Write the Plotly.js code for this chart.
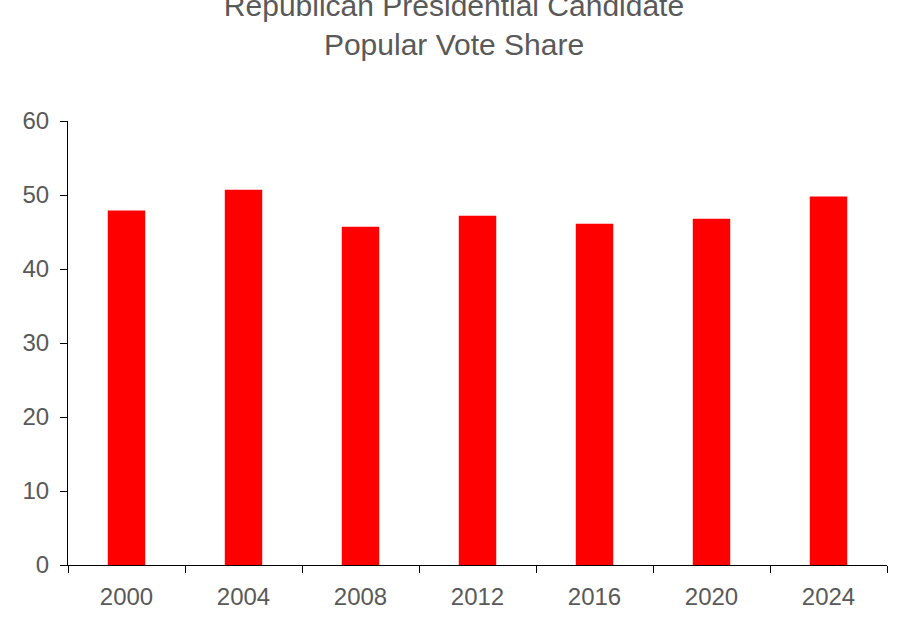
<!DOCTYPE html>
<html>
<head>
<script src="https://cdn.plot.ly/plotly-3.0.1.min.js"></script>
<style>body{margin:0}</style>
</head>
<body>
<div id="chart" style="width:908px;height:626px"></div>
<script>
// popular vote share, percent
const years = ["2000", "2004", "2008", "2012", "2016", "2020", "2024"];
const share = [47.9, 50.7, 45.7, 47.2, 46.1, 46.8, 49.8];

const grey = "#595959";

const data = [{
  x: years,
  y: share,
  type: "bar",
  marker: { color: "#ff0000" },
  hoverinfo: "x+y"
}];

const layout = {
  width: 908,
  height: 626,
  margin: { l: 68, r: 21, t: 121, b: 61 },
  paper_bgcolor: "#ffffff",
  plot_bgcolor: "#ffffff",
  font: { family: "Liberation Sans, Arial, sans-serif", color: grey, size: 24 },
  title: {
    text: "Republican Presidential Candidate<br>Popular Vote Share",
    font: { size: 30, color: grey },
    x: 0.5,
    y: 0.975,
    yanchor: "top",
    pad: { t: 0 }
  },
  bargap: 0.68,
  showlegend: false,
  xaxis: {
    type: "category",
    showline: true,
    linecolor: "#000",
    linewidth: 1,
    ticks: "outside",
    tickson: "boundaries",
    ticklen: 7,
    tickcolor: "#000",
    ticklabelstandoff: 10,
    showgrid: false
  },
  yaxis: {
    range: [0, 60],
    dtick: 10,
    showline: true,
    linecolor: "#000",
    linewidth: 1,
    ticks: "outside",
    ticklen: 7,
    tickcolor: "#000",
    ticklabelstandoff: 6,
    showgrid: false,
    zeroline: false
  }
};

Plotly.newPlot("chart", data, layout, { displayModeBar: false });
</script>
</body>
</html>
